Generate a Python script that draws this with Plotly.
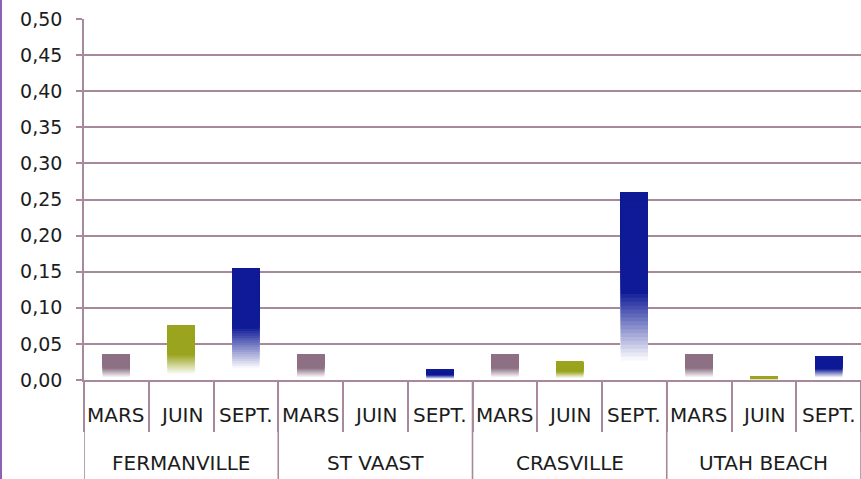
import plotly.graph_objects as go

# Sampling sites and campaign months
sites = ["FERMANVILLE", "ST VAAST", "CRASVILLE", "UTAH BEACH"]
months = ["MARS", "JUIN", "SEPT."]

# Measured values per site, one list per month
mars = [0.035, 0.035, 0.035, 0.035]
juin = [0.075, 0.0, 0.025, 0.005]
sept = [0.155, 0.015, 0.26, 0.033]

y_ticks = [0.0, 0.05, 0.10, 0.15, 0.20, 0.25, 0.30, 0.35, 0.40, 0.45, 0.50]
y_labels = [f"{t:.2f}".replace(".", ",") for t in y_ticks]

month_colors = {"MARS": (141, 112, 132), "JUIN": (154, 164, 30), "SEPT.": (14, 26, 150)}

# One category per (site, month) pair
cats, cat_month, values, base_rgb = [], [], [], []
series = {"MARS": mars, "JUIN": juin, "SEPT.": sept}
for i, s in enumerate(sites):
    for m in months:
        cats.append(f"{s} / {m}")
        cat_month.append(m)
        values.append(series[m][i])
        base_rgb.append(month_colors[m])


def shade(rgb, h):
    """Vertical gradient: white near the base, full colour from mid-height up."""
    if h < 0.1:
        t = 0.0
    elif h < 0.47:
        t = (h - 0.1) / 0.37
    else:
        t = 1.0
    r, g, b = (round(255 + (c - 255) * t) for c in rgb)
    return f"rgb({r},{g},{b})"


fig = go.Figure()
N = 48
# Each layer runs from its own base up to the bar top; higher layers cover
# the ones below, so only a thin band of every layer stays visible.
for k in range(N):
    h = (k + 0.5) / N
    fig.add_trace(go.Bar(
        x=cats,
        y=[v * (N - k) / N for v in values],
        base=[v * k / N for v in values],
        marker=dict(color=[shade(c, h) for c in base_rgb], line=dict(width=0)),
        showlegend=False,
        hoverinfo="skip",
    ))

grid = "#a8899b"
text_col = "#1c1c1c"
fig.update_layout(
    width=861, height=479,
    margin=dict(l=84, r=0, t=19, b=99),
    barmode="overlay",
    bargap=0.58,
    plot_bgcolor="white",
    paper_bgcolor="white",
    font=dict(family="DejaVu Sans", size=19, color=text_col),
)
fig.update_yaxes(
    range=[0, 0.5],
    tickvals=y_ticks,
    ticktext=y_labels,
    showgrid=True, gridcolor=grid, gridwidth=1.6,
    ticks="outside", ticklen=6, tickcolor=grid, tickwidth=1.6,
    ticklabelstandoff=10,
    showline=True, linecolor=grid, linewidth=1.6,
    zeroline=False,
    tickfont=dict(size=19, color=text_col),
)
# Month separators hang below the axis as boundary ticks
fig.update_xaxes(
    type="category",
    categoryorder="array", categoryarray=cats,
    range=[-0.5, len(cats) - 0.5],
    showline=True, linecolor=grid, linewidth=1.6,
    ticks="outside", tickson="boundaries", ticklen=50,
    tickcolor=grid, tickwidth=1.6,
    showticklabels=False,
)

plot_h = 479 - 19 - 99

# Month labels under each bar
for c, m in zip(cats, cat_month):
    fig.add_annotation(x=c, xref="x", y=-35 / plot_h, yref="paper",
                       text=m, showarrow=False, yanchor="middle",
                       font=dict(size=20, color=text_col))

# Site labels centred under each group, with full-height group separators
for i, s in enumerate(sites):
    fig.add_annotation(x=cats[3 * i + 1], xref="x", y=-83 / plot_h, yref="paper",
                       text=s, showarrow=False, yanchor="middle",
                       font=dict(size=20, color=text_col))
for b in range(len(sites) + 1):
    xb = 3 * b - 0.5
    fig.add_shape(type="line", xref="x", yref="paper",
                  x0=xb, x1=xb, y0=0, y1=-100 / plot_h,
                  line=dict(color=grid, width=1.6))

# Left page border
fig.add_shape(type="line", xref="paper", yref="paper",
              x0=-83 / 777, x1=-83 / 777, y0=-100 / plot_h, y1=1.06,
              line=dict(color="#8d62b3", width=2))

fig.write_html("out.html")
